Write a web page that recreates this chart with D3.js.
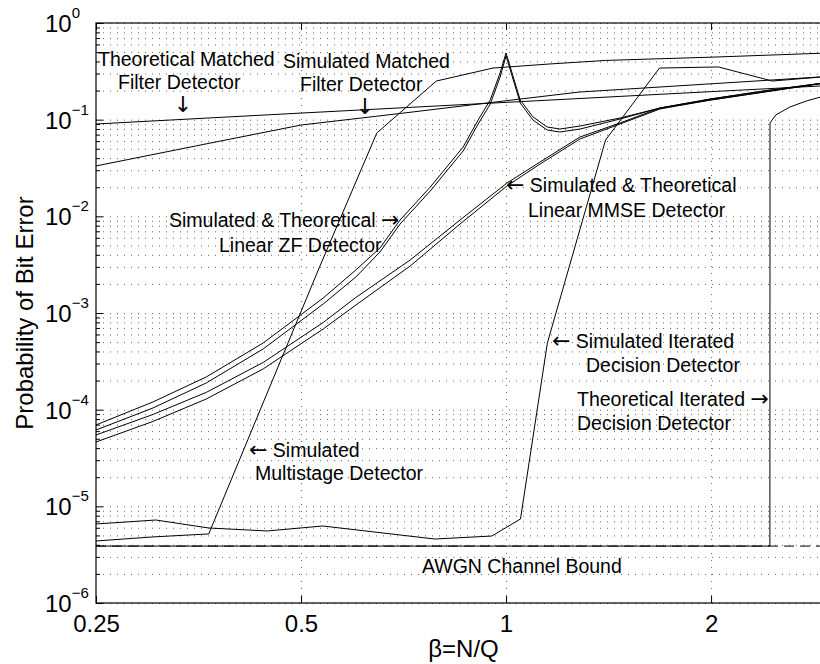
<!DOCTYPE html>
<html>
<head>
<meta charset="utf-8">
<script src="https://cdn.jsdelivr.net/npm/d3@7"></script>
<style>
  body { margin: 0; background: #fff; }
  svg { display: block; font-family: "Liberation Sans", Arial, Helvetica, sans-serif; }
</style>
</head>
<body>
<div id="chart"></div>
<script>
// Axis ticks
const xTickValues = [0.25, 0.5, 1, 2];
const xTickLabels = ['0.25', '0.5', '1', '2'];
const yTickValues = [1e-6, 1e-5, 1e-4, 1e-3, 1e-2, 1e-1, 1];
const yTickExponents = ['\u22126', '\u22125', '\u22124', '\u22123', '\u22122', '\u22121', '0'];

// Matched filter detector
const betaTheoMF = [0.25, 0.5, 1, 2, 3];
const pTheoMF = [0.0902, 0.117, 0.151, 0.195, 0.226];
const betaSimMF = [0.25, 0.35, 0.5, 0.7, 1, 1.28, 2, 3];
const pSimMF = [0.0332, 0.0534, 0.088, 0.116, 0.157, 0.193, 0.235, 0.281];

// Linear ZF detector (theoretical + simulated)
const betaZF = [0.25, 0.303, 0.363, 0.44, 0.539, 0.602, 0.653, 0.699, 0.774, 0.865, 0.91, 0.948, 0.98, 1.0,
  1.049, 1.095, 1.149, 1.2, 1.284, 1.47, 1.683, 2.0, 2.45, 3.0];
const pTheoZF = [6.95e-5, 1.20e-4, 2.18e-4, 4.90e-4, 1.43e-3, 2.79e-3, 4.71e-3, 9.17e-3, 0.0201, 0.0521, 0.0993, 0.160, 0.304, 0.49,
  0.160, 0.107, 0.084, 0.080, 0.086, 0.104, 0.132, 0.164, 0.203, 0.245];
const pSimZF = [6.16e-5, 1.04e-4, 1.89e-4, 4.25e-4, 1.24e-3, 2.36e-3, 4.28e-3, 8.33e-3, 0.0183, 0.0474, 0.0902, 0.145, 0.276, 0.456,
  0.149, 0.0993, 0.0782, 0.0745, 0.080, 0.1016, 0.132, 0.164, 0.203, 0.245];

// Linear MMSE detector (theoretical + simulated)
const betaMMSE = [0.25, 0.303, 0.363, 0.44, 0.539, 0.602, 0.723, 0.856, 1.003, 1.122, 1.284, 1.47, 1.683, 2.0, 2.45, 3.0];
const pTheoMMSE = [5.47e-5, 8.91e-5, 1.51e-4, 3.08e-4, 7.98e-4, 1.45e-3, 3.53e-3, 9.17e-3, 0.0221, 0.0365, 0.0662, 0.0924, 0.132, 0.160, 0.198, 0.245];
const pSimMMSE = [4.63e-5, 7.55e-5, 1.29e-4, 2.64e-4, 6.84e-4, 1.21e-3, 3.06e-3, 8.33e-3, 0.0206, 0.0348, 0.0631, 0.0902, 0.129, 0.160, 0.198, 0.245];

// Simulated multistage detector
const betaMS = [0.25, 0.302, 0.366, 0.441, 0.533, 0.646, 0.79, 0.957, 1.16, 1.4, 2.04, 2.98];
const pMS = [4.38e-6, 4.82e-6, 5.18e-6, 1.23e-4, 3.06e-3, 0.0728, 0.251, 0.342, 0.377, 0.41, 0.445, 0.49];

// Simulated iterated decision detector
const betaSimID = [0.25, 0.306, 0.366, 0.446, 0.538, 0.786, 0.953, 1.05, 1.15, 1.40, 1.68, 2.05, 2.46, 2.97];
const pSimID = [6.57e-6, 7.22e-6, 5.97e-6, 5.56e-6, 6.26e-6, 4.59e-6, 4.93e-6, 7.40e-6, 4.90e-4, 0.0616, 0.342, 0.351, 0.251, 0.28];

// Theoretical iterated decision detector
const betaTheoID = [0.25, 2.44, 2.441, 2.49, 2.61, 2.76, 2.90, 3.0];
const pTheoID = [3.88e-6, 3.88e-6, 0.0924, 0.112, 0.135, 0.156, 0.172, 0.176];

// AWGN channel bound
const betaAWGN = [0.25, 3];
const pAWGN = [3.88e-6, 3.88e-6];

const margin = { top: 23, left: 96 };
const width = 735;   // plot runs past the right edge of the picture (beta = 3)
const height = 580;
const fontFamily = '"Liberation Sans", Arial, Helvetica, sans-serif';
const arrowFont = '"DejaVu Sans", sans-serif';
const gridColor = '#666';

const x = d3.scaleLog().domain([0.25, 3]).range([0, width]);
const y = d3.scaleLog().domain([1e-6, 1]).range([height, 0]);

const svg = d3.select('#chart')
  .append('svg')
  .attr('width', 820)
  .attr('height', 664);

const g = svg.append('g')
  .attr('transform', `translate(${margin.left}, ${margin.top})`);

g.append('defs').append('clipPath')
  .attr('id', 'plot-clip')
  .append('rect')
  .attr('width', width)
  .attr('height', height);

// Dotted grid, minor decades included
const yMinor = y.ticks().filter(v => !yTickValues.includes(v));

g.append('g')
  .attr('class', 'grid grid-y')
  .call(d3.axisLeft(y).tickValues(y.ticks()).tickSize(-width).tickFormat(''))
  .call(s => s.select('.domain').remove())
  .selectAll('line')
  .attr('stroke', gridColor)
  .attr('stroke-width', 1)
  .attr('stroke-dasharray', '1,6');

g.append('g')
  .attr('class', 'grid grid-x')
  .attr('transform', `translate(0, ${height})`)
  .call(d3.axisBottom(x).tickValues(xTickValues.slice(1)).tickSize(-height).tickFormat(''))
  .call(s => s.select('.domain').remove())
  .selectAll('line')
  .attr('stroke', gridColor)
  .attr('stroke-width', 1)
  .attr('stroke-dasharray', '1,6');

// Curves
const line = d3.line()
  .x(d => x(d[0]))
  .y(d => y(d[1]));

const series = [
  { beta: betaAWGN, p: pAWGN, dash: '10,6' },
  { beta: betaTheoMF, p: pTheoMF },
  { beta: betaSimMF, p: pSimMF },
  { beta: betaZF, p: pTheoZF },
  { beta: betaZF, p: pSimZF },
  { beta: betaMMSE, p: pTheoMMSE },
  { beta: betaMMSE, p: pSimMMSE },
  { beta: betaMS, p: pMS },
  { beta: betaSimID, p: pSimID },
  { beta: betaTheoID, p: pTheoID }
];

const curves = g.append('g').attr('clip-path', 'url(#plot-clip)');

series.forEach(s => {
  curves.append('path')
    .datum(d3.zip(s.beta, s.p))
    .attr('fill', 'none')
    .attr('stroke', '#000')
    .attr('stroke-width', 1)
    .attr('stroke-dasharray', s.dash || null)
    .attr('stroke-linejoin', 'round')
    .attr('d', line);
});

// Axes: inward ticks
g.append('g')
  .attr('class', 'x axis')
  .attr('transform', `translate(0, ${height})`)
  .call(d3.axisBottom(x).tickValues(xTickValues).tickSize(-7).tickSizeOuter(0).tickPadding(12)
    .tickFormat((d, i) => xTickLabels[i]))
  .call(s => s.select('.domain').remove())
  .selectAll('text')
  .style('font-family', fontFamily)
  .style('font-size', '24px')
  .attr('fill', '#000');

g.append('g')
  .attr('class', 'x axis top')
  .call(d3.axisTop(x).tickValues(xTickValues).tickSize(-7).tickSizeOuter(0).tickFormat(''))
  .call(s => s.select('.domain').remove());

g.append('g')
  .attr('class', 'y axis')
  .call(d3.axisLeft(y).tickValues(yTickValues).tickSize(-7).tickSizeOuter(0).tickFormat(''))
  .call(s => s.select('.domain').remove());

g.append('g')
  .attr('class', 'y axis minor')
  .call(d3.axisLeft(y).tickValues(yMinor).tickSize(-4).tickSizeOuter(0).tickFormat(''))
  .call(s => s.select('.domain').remove());

g.selectAll('.axis line').attr('stroke', '#000');

// Frame
g.append('rect')
  .attr('width', width)
  .attr('height', height)
  .attr('fill', 'none')
  .attr('stroke', '#000')
  .attr('stroke-width', 1.2);

// Y tick labels as 10^k
const yLabels = g.append('g')
  .attr('class', 'y-labels')
  .style('font-family', fontFamily)
  .style('font-size', '24px');

yTickValues.forEach((v, i) => {
  const t = yLabels.append('text')
    .attr('x', 45 - margin.left)
    .attr('y', y(v) + 9)
    .text('10');
  t.append('tspan')
    .attr('dy', -14)
    .style('font-size', '15px')
    .text(yTickExponents[i]);
});

// Axis titles
svg.append('text')
  .attr('x', margin.left + width / 2)
  .attr('y', 657)
  .attr('text-anchor', 'middle')
  .style('font-size', '24px')
  .text('\u03B2=N/Q');

svg.append('text')
  .attr('transform', `translate(33, ${margin.top + height / 2}) rotate(-90)`)
  .attr('text-anchor', 'middle')
  .style('font-size', '24px')
  .text('Probability of Bit Error');

// Annotations (page coordinates)
const notes = [
  { x: 98, y: 66, text: 'Theoretical Matched' },
  { x: 118, y: 88.5, text: 'Filter Detector' },
  { x: 183, y: 112, text: '\u2193', anchor: 'middle' },
  { x: 283, y: 68, text: 'Simulated Matched' },
  { x: 300, y: 90.5, text: 'Filter Detector' },
  { x: 365, y: 114, text: '\u2193', anchor: 'middle' },
  { x: 169, y: 227, text: 'Simulated & Theoretical \u2192' },
  { x: 219, y: 252, text: 'Linear ZF Detector' },
  { x: 506, y: 192, text: '\u2190 Simulated & Theoretical' },
  { x: 528, y: 217, text: 'Linear MMSE Detector' },
  { x: 249, y: 457, text: '\u2190 Simulated' },
  { x: 255, y: 480, text: 'Multistage Detector' },
  { x: 552, y: 348, text: '\u2190 Simulated Iterated' },
  { x: 586, y: 372, text: 'Decision Detector' },
  { x: 577, y: 406, text: 'Theoretical Iterated \u2192' },
  { x: 577, y: 430, text: 'Decision Detector' },
  { x: 422, y: 573, text: 'AWGN Channel Bound' }
];

const noteText = svg.append('g')
  .attr('class', 'notes')
  .style('font-size', '19.5px')
  .selectAll('text')
  .data(notes)
  .join('text')
  .attr('x', d => d.x)
  .attr('y', d => d.y)
  .attr('text-anchor', d => d.anchor || 'start');

// arrows come from DejaVu, the rest from the sans face
noteText.each(function (d) {
  const el = d3.select(this);
  d.text.split(/([\u2190-\u2193])/).filter(part => part.length).forEach(part => {
    const isArrow = /[\u2190-\u2193]/.test(part);
    el.append('tspan')
      .style('font-family', isArrow ? arrowFont : null)
      .style('font-size', isArrow ? '22px' : null)
      .text(part);
  });
});
</script>
</body>
</html>
